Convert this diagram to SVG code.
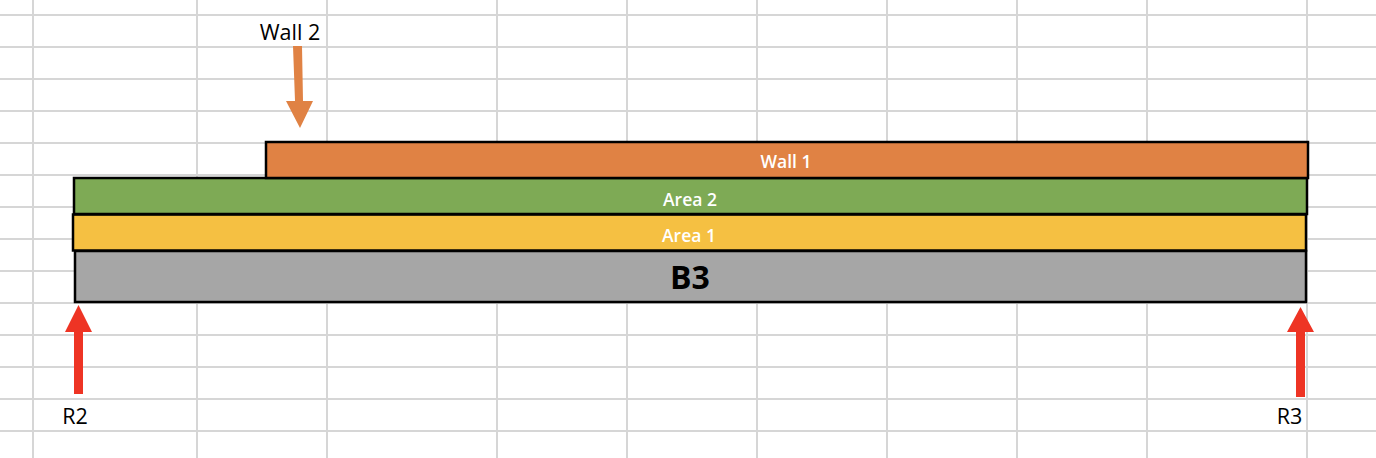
<svg xmlns="http://www.w3.org/2000/svg" width="1376" height="458" viewBox="0 0 1376 458">
<style>
.grid line{stroke:#d6d6d6;stroke-width:2}
.bar{stroke:#000;stroke-width:2.5}
.lbl{font-family:"Open Sans","Liberation Sans",sans-serif;font-size:17.5px;font-weight:600;fill:#fff;text-anchor:middle}
.cap{font-family:"Open Sans","Liberation Sans",sans-serif;font-size:21.5px;fill:#000;text-anchor:middle}
.big{font-family:"Open Sans","Liberation Sans",sans-serif;font-size:32px;font-weight:bold;fill:#000;text-anchor:middle}
</style>
<rect width="1376" height="458" fill="#fff"/>
<g class="grid">
<line x1="33" y1="0" x2="33" y2="458"/><line x1="197" y1="0" x2="197" y2="458"/><line x1="327" y1="0" x2="327" y2="458"/><line x1="497" y1="0" x2="497" y2="458"/><line x1="627" y1="0" x2="627" y2="458"/><line x1="757" y1="0" x2="757" y2="458"/><line x1="887" y1="0" x2="887" y2="458"/><line x1="1017" y1="0" x2="1017" y2="458"/><line x1="1147" y1="0" x2="1147" y2="458"/><line x1="1307" y1="0" x2="1307" y2="458"/>
<line x1="0" y1="15" x2="1376" y2="15"/><line x1="0" y1="47" x2="1376" y2="47"/><line x1="0" y1="79" x2="1376" y2="79"/><line x1="0" y1="111" x2="1376" y2="111"/><line x1="0" y1="143" x2="1376" y2="143"/><line x1="0" y1="175" x2="1376" y2="175"/><line x1="0" y1="207" x2="1376" y2="207"/><line x1="0" y1="239" x2="1376" y2="239"/><line x1="0" y1="271" x2="1376" y2="271"/><line x1="0" y1="303" x2="1376" y2="303"/><line x1="0" y1="335" x2="1376" y2="335"/><line x1="0" y1="367" x2="1376" y2="367"/><line x1="0" y1="399" x2="1376" y2="399"/><line x1="0" y1="431" x2="1376" y2="431"/>
</g>
<g id="b3"><rect class="bar" x="75" y="251" width="1231" height="51" fill="#a6a6a6"/><text class="big" x="690" y="289">B3</text></g>
<g id="area1"><rect class="bar" x="73" y="214.5" width="1233" height="36" fill="#f5c042"/><text class="lbl" x="689" y="242">Area 1</text></g>
<g id="area2"><rect class="bar" x="74" y="178" width="1233" height="36" fill="#7eaa55"/><text class="lbl" x="690" y="206">Area 2</text></g>
<g id="wall1"><rect class="bar" x="266" y="142" width="1042" height="36" fill="#e08244"/><text class="lbl" x="786" y="168">Wall 1</text></g>
<g id="connectors">
<g id="wall2-arrow"><polygon points="293,46 302,46 303,101 313,101 300,128 286,101 295,101" fill="#e08244"/></g>
<g id="r2-arrow"><polygon points="78.5,305 92,332 83,332 83,394 74,394 74,332 65,332" fill="#ee3424"/></g>
<g id="r3-arrow"><polygon points="1300.5,307 1314,332 1305,332 1305,397 1296,397 1296,332 1287,332" fill="#ee3424"/></g>
</g>
<g id="wall2"><text class="cap" x="290" y="40">Wall 2</text></g>
<g id="r2"><text class="cap" x="75" y="424">R2</text></g>
<g id="r3"><text class="cap" x="1289.5" y="424">R3</text></g>
</svg>
